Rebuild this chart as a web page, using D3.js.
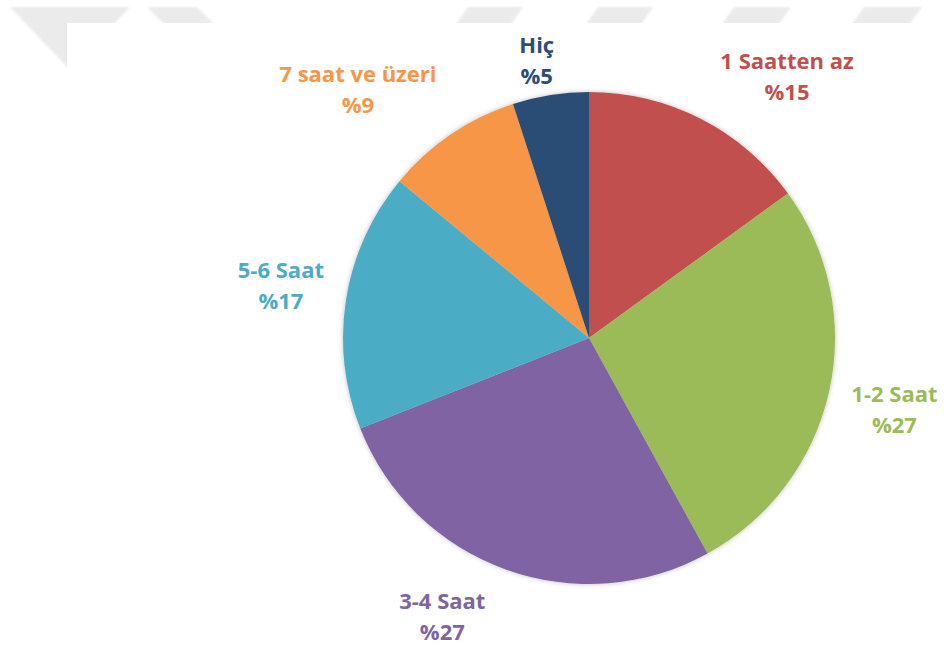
<!DOCTYPE html>
<html>
<head>
<meta charset="utf-8">
<script src="https://cdn.jsdelivr.net/npm/d3@7"></script>
<style>
    html, body { margin: 0; padding: 0; background: #fff; }
    #chart { width: 944px; height: 645px; }
</style>
</head>
<body>
<div id="chart"></div>
<script>
// data
let categories = ["1 Saatten az", "1-2 Saat", "3-4 Saat", "5-6 Saat", "7 saat ve üzeri", "Hiç"];
let values = [15, 27, 27, 17, 9, 5];
let percentLabels = ["%15", "%27", "%27", "%17", "%9", "%5"];

let colors = ["#C0504D", "#9BBB59", "#8064A2", "#4BACC6", "#F79646", "#2C4D75"];
// label offsets (excel moves labels around to avoid overlap)
let nudges = [[55, 18], [-2, 2], [-40, -19], [3, -4], [-54, 11], [-3, 33]];

let width = 944, height = 645;
let cx = 589, cy = 338, radius = 246, labelRadius = 315;

let svg = d3.select('#chart')
    .append("svg")
    .attr("width", width)
    .attr("height", height);

let defs = svg.append("defs");
let blur = defs.append("filter").attr("id", "soft")
    .attr("x", "-20%").attr("y", "-20%").attr("width", "140%").attr("height", "140%");
blur.append("feGaussianBlur").attr("stdDeviation", 1.2);

let shadow = defs.append("filter").attr("id", "shadow")
    .attr("x", "-10%").attr("y", "-10%").attr("width", "120%").attr("height", "120%");
shadow.append("feDropShadow")
    .attr("dx", 0).attr("dy", 0)
    .attr("stdDeviation", 2.5)
    .attr("flood-color", "#000")
    .attr("flood-opacity", 0.25);

// faint background shapes at the top (behind the chart area)
let deco = [
    [[10, 7], [130, 7], [70, 70]],
    [[147, 7], [197, 7], [230, 40], [180, 40]],
    [[468, 7], [523, 7], [500, 40], [445, 40]],
    [[598, 7], [653, 7], [630, 40], [575, 40]],
    [[734, 7], [791, 7], [768, 40], [711, 40]],
    [[864, 7], [922, 7], [899, 40], [841, 40]]
];
svg.append("g")
    .attr("filter", "url(#soft)")
    .selectAll("polygon")
    .data(deco)
    .enter()
    .append("polygon")
    .attr("points", (d) => d.map((p) => p.join(",")).join(" "))
    .attr("fill", "#ebebeb");

svg.append("rect")
    .attr("x", 67)
    .attr("y", 23)
    .attr("width", width - 67)
    .attr("height", height - 23)
    .attr("fill", "#fff");

let pie = d3.pie()
    .sort(null)
    .value((d) => d);

let arcs = pie(values);

let arc = d3.arc()
    .innerRadius(0)
    .outerRadius(radius);

let g = svg.append("g")
    .attr("transform", "translate(" + cx + "," + cy + ")");

g.append("g")
    .attr("filter", "url(#shadow)")
    .selectAll("path")
    .data(arcs)
    .enter()
    .append("path")
    .attr("d", arc)
    .attr("fill", (d, i) => colors[i]);

// labels
let lbl = g.selectAll("g.label")
    .data(arcs)
    .enter()
    .append("g")
    .attr("class", "label")
    .attr("transform", (d, i) => {
        let a = (d.startAngle + d.endAngle) / 2;
        let x = Math.sin(a) * labelRadius + nudges[i][0];
        let y = -Math.cos(a) * labelRadius + nudges[i][1];
        return "translate(" + x + "," + y + ")";
    })
    .style("font-family", "'Open Sans', sans-serif")
    .style("font-weight", "bold")
    .style("font-size", "22px")
    .attr("text-anchor", "middle")
    .attr("fill", (d, i) => colors[i]);

lbl.append("text")
    .attr("y", -15.5)
    .attr("dominant-baseline", "central")
    .text((d, i) => categories[i]);

lbl.append("text")
    .attr("y", 15.5)
    .attr("dominant-baseline", "central")
    .text((d, i) => percentLabels[i]);
</script>
</body>
</html>
